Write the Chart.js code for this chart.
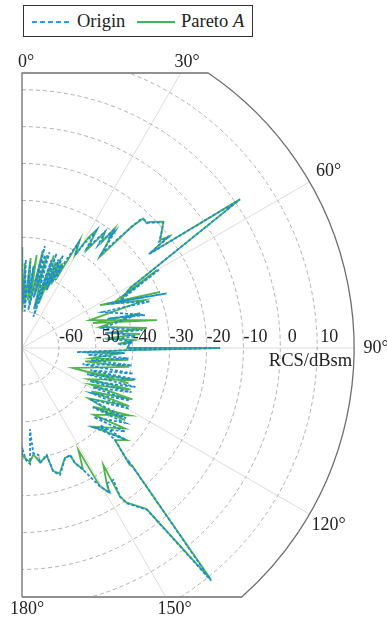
<!DOCTYPE html>
<html><head><meta charset="utf-8">
<script src="https://cdn.jsdelivr.net/npm/chart.js@4.4.0/dist/chart.umd.min.js"></script>
<style>
html,body{margin:0;padding:0;background:#fff;}
#wrap{position:relative;width:387px;height:619px;overflow:hidden;background:#fff;}
#c{position:absolute;left:0;top:0;}
#legend{position:absolute;left:23px;top:5px;width:228px;height:30px;border:1.5px solid #333;background:#fff;font-family:"Liberation Serif","Times New Roman",serif;font-size:18.5px;color:#222;}
.item{position:absolute;top:0;height:30px;line-height:30px;white-space:nowrap;}
.sw{position:absolute;top:14px;}
</style></head>
<body><div id="wrap"><canvas id="c" width="387" height="619"></canvas>
<div id="legend">
<svg class="sw" style="left:8px" width="40" height="4"><line x1="0" y1="2" x2="40" y2="2" stroke="#1ea4ea" stroke-width="1.8" stroke-dasharray="5,3"/></svg>
<span class="item" style="left:53px">Origin</span>
<svg class="sw" style="left:113px" width="38" height="4"><line x1="0" y1="2" x2="38" y2="2" stroke="#3fb55a" stroke-width="2"/></svg>
<span class="item" style="left:157px">Pareto <i>A</i></span>
</div></div>
<script>
// radial range (dBsm) and ticks
const RMIN = -70, RMAX = 20;
const radialTicks = [-60, -50, -40, -30, -20, -10, 0, 10];
const angleTicks = [0, 30, 60, 90, 120, 150, 180];
const radialTitle = 'RCS/dBsm';

// Origin series: angle (deg) and RCS (dBsm), in drawing order
const originAngle = [0,1,2.5,4,5.5,7,8,9.4,12.7,11,14,13,16,17.5,18.5,19.9,20.1,21,22.5,23.1,23.9,24.6,25,25.9,26.5,
28.2,29.7,30.5,32.3,33,35.5,36.5,37.8,38.2,38.6,40.1,42.1,42.7,43.5,45.2,48.4,50.5,52.2,52.9,53.5,55.7,61,63.1,
60.2,64.5,69.3,62.5,70,66,75,71,74,76,81.5,80.5,84,84.5,86.5,88,87.5,90,90,91.1,94.2,92.8,
96,95.5,100,99,105,103,108,105.5,112,109,116,112,119,116,123,119.5,127,124,130,126,134,129,138,131.5,134.6,134.7,137.3,136.7,137,140.9,
142.3,146,146.6,145.3,148,148.8,150.6,152.1,153.3,155.3,155.8,158.7,163.3,165.8,167,171.1,171.3,173.9,174.4,176,178,179.6,180];
const originDb = [-43,-58,-46,-60,-46.5,-55,-47.5,-59.6,-41.7,-52,-44,-56,-43,-58.3,-45,-61,-42.7,-52,-44,-52.9,-42.4,-50.6,-45,-49.5,-43.9,
-37.5,-41,-38.1,-32.5,-37.8,-31.3,-35.3,-29,-32.2,-29.6,-36.5,-25.7,-22.5,-22,-21.8,-18.8,-21,-23,-20.5,-27.2,1.5,-36.6,-39.2,
-27,-41,-28.1,-44,-33,-46,-35.5,-45.5,-38,-47.5,-37,-45,-39,-45.5,-40,-43.5,-40.5,-41.5,-16.3,-40.7,-55.1,-42.1,
-52,-41,-51,-40,-53,-39,-50.5,-38,-51,-37.5,-49.5,-38,-48,-37.5,-47.5,-36.5,-47,-36,-45,-35.5,-43,-34,-41,-32.5,-40.3,-34.5,-26.9,-27.5,-25.9,11.3,
-14.6,-19.2,-21.7,-26.5,-26.7,-24,-26.9,-30.5,-33,-35.6,-38.2,-37.9,-34.1,-35.4,-40.2,-38.4,-40.7,-41.3,-47.9,-38.5,-39.6,-42.4,-41];

// Pareto A series
const paretoAngle = [0,0.5,2,3.5,5.5,7,9,10,12,13.5,15,17,19,20.5,21.5,22.5,23.5,24.5,25.5,26.5,27.5,
28.2,29.7,31,32.3,33.5,35.5,37,37.8,39,40.5,42.1,43.1,45,45.4,48.2,52,52.7,53.5,55.7,61,63.1,
60,63.7,67.9,61.1,68.7,67.6,78.3,70.6,73.5,74.9,80.9,79.8,83.2,83.5,86,87.6,87.3,90,90,91.1,94,92.8,
98.4,96.4,102,100,111.4,108.3,110,106,115,111,118,115,122,118.5,127.2,125,129.5,122,133,128,137.8,131.3,134.7,137.3,137,140.8,
142.3,146,146.6,145.2,148,148.8,150.6,151.1,153.3,155.3,155.8,158.7,163.3,165.8,167,171.1,173.9,176,178,180];
const paretoDb = [-42.6,-59.7,-47,-58,-45.5,-57,-44.5,-58,-43,-55,-44,-59,-43.5,-57,-45,-53,-43.5,-51,-44.5,-48,-43,
-36.8,-41,-35,-32.1,-38,-31.5,-34,-28.9,-33,-37.5,-25.7,-21.9,-22.2,-21.3,-18.6,-22.5,-20.2,-26.9,1.5,-36.6,-39.2,
-27.7,-42.5,-29.6,-45.9,-34.2,-50.1,-32.6,-49.6,-36.6,-48.1,-35.7,-47.1,-37.8,-46,-39.3,-44,-40.7,-41.5,-16.5,-41,-53,-42.5,
-50.9,-41,-52.5,-40.5,-55.2,-39.6,-51.5,-38.5,-50,-38.5,-49,-37,-47.8,-37,-47.4,-35.9,-45,-35.5,-43.5,-34.5,-41.2,-32.2,-34.5,-27,-26,11,
-14.8,-19.5,-21.7,-31.4,-26.7,-24.2,-27,-38.4,-33.2,-35.8,-38,-38,-34.5,-35.6,-40,-38.6,-41,-39,-40,-41];

function toXY(a, d) {
  const r = Math.max(0, d - RMIN);
  const t = a * Math.PI / 180;
  return { x: r * Math.sin(t), y: r * Math.cos(t) };
}

const FONT = '"Liberation Serif", "Times New Roman", serif';

const polarGrid = {
  id: 'polarGrid',
  beforeDatasetsDraw(chart) {
    const { ctx, chartArea: ca } = chart;
    const xs = chart.scales.x, ys = chart.scales.y;
    const cx = xs.getPixelForValue(0), cy = ys.getPixelForValue(0);
    const k = xs.getPixelForValue(1) - cx;
    const R = (RMAX - RMIN) * k;
    ctx.save();
    ctx.beginPath(); ctx.rect(ca.left, ca.top, ca.right - ca.left, ca.bottom - ca.top); ctx.clip();
    ctx.strokeStyle = '#dcdcdc'; ctx.lineWidth = 1;
    angleTicks.forEach(a => {
      if (a === 0 || a === 180) return;
      const t = a * Math.PI / 180;
      ctx.beginPath(); ctx.moveTo(cx, cy);
      ctx.lineTo(cx + R * Math.sin(t), cy - R * Math.cos(t)); ctx.stroke();
    });
    ctx.strokeStyle = '#b0b0b0'; ctx.setLineDash([4, 3]);
    radialTicks.forEach(v => {
      const r = (v - RMIN) * k;
      ctx.beginPath(); ctx.arc(cx, cy, r, -Math.PI / 2, Math.PI / 2); ctx.stroke();
    });
    ctx.restore();
  },
  afterDatasetsDraw(chart) {
    const { ctx, chartArea: ca } = chart;
    const xs = chart.scales.x, ys = chart.scales.y;
    const cx = xs.getPixelForValue(0), cy = ys.getPixelForValue(0);
    const k = xs.getPixelForValue(1) - cx;
    const R = (RMAX - RMIN) * k;
    ctx.save();
    // outer frame
    const dyT = cy - ca.top, dyB = ca.bottom - cy;
    const dxT = Math.sqrt(R * R - dyT * dyT), dxB = Math.sqrt(R * R - dyB * dyB);
    ctx.strokeStyle = '#6e6e6e'; ctx.lineWidth = 1.3; ctx.setLineDash([]);
    ctx.beginPath();
    ctx.moveTo(cx, ca.bottom); ctx.lineTo(cx, ca.top); ctx.lineTo(cx + dxT, ca.top);
    ctx.arc(cx, cy, R, Math.atan2(-dyT, dxT), Math.atan2(dyB, dxB), false);
    ctx.lineTo(cx, ca.bottom);
    ctx.stroke();
    // radial tick labels
    ctx.fillStyle = '#222';
    ctx.font = '18px ' + FONT;
    ctx.textAlign = 'center'; ctx.textBaseline = 'middle';
    radialTicks.forEach(v => {
      const r = (v - RMIN) * k;
      ctx.fillText(String(v), cx + r + 12, cy - 11);
    });
    ctx.textAlign = 'right';
    ctx.font = '18.5px ' + FONT;
    ctx.fillText(radialTitle, cx + R - 2, cy + 13);
    // angle labels
    ctx.font = '18px ' + FONT;
    ctx.textAlign = 'center';
    angleTicks.forEach(a => {
      const t = a * Math.PI / 180;
      let x, y;
      if (a === 0) { x = cx + 4; y = ca.top - 11; }
      else if (a === 180) { x = cx + 5; y = ca.bottom + 12; }
      else if (a === 30) { y = ca.top - 11; x = cx + (cy - y) * Math.tan(t); }
      else if (a === 150) { y = ca.bottom + 12; x = cx + (y - cy) * Math.tan(Math.PI - t) + 2; }
      else { x = cx + (R + 22) * Math.sin(t); y = cy - (R + 22) * Math.cos(t); }
      ctx.fillText(a + '°', x, y);
    });
    ctx.restore();
  }
};

new Chart(document.getElementById('c'), {
  type: 'scatter',
  data: {
    datasets: [
      { label: 'Origin', data: originAngle.map((a, i) => toXY(a, originDb[i])), showLine: true,
        borderColor: '#1b8ed8', borderWidth: 1.8, borderDash: [3, 2], pointRadius: 0, fill: false, tension: 0 },
      { label: 'Pareto A', data: paretoAngle.map((a, i) => toXY(a, paretoDb[i])), showLine: true,
        borderColor: '#4fb54a', borderWidth: 1.8, pointRadius: 0, fill: false, tension: 0 }
    ]
  },
  options: {
    responsive: false, animation: false, devicePixelRatio: 1,
    layout: { padding: { left: 22, top: 73, right: 27, bottom: 22 } },
    plugins: { legend: { display: false }, tooltip: { enabled: false } },
    scales: {
      x: { type: 'linear', min: 0, max: 91.6, display: false },
      y: { type: 'linear', min: -67.5, max: 74.55, display: false }
    }
  },
  plugins: [polarGrid]
});
</script>
</body></html>
